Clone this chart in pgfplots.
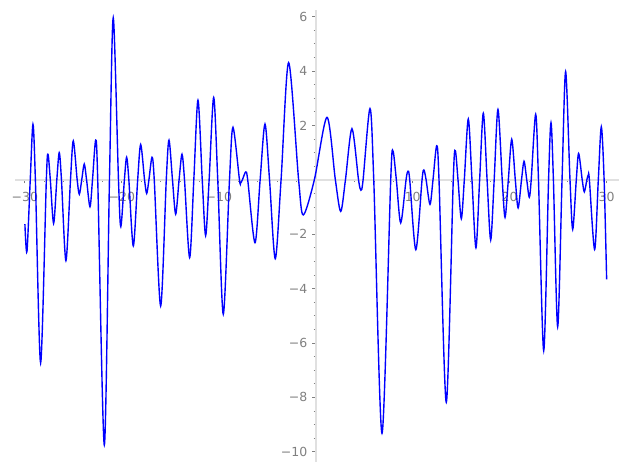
\documentclass[border=0pt]{standalone}
\usepackage{fontspec}
\setmainfont{DejaVu Sans}
\usepackage{pgfplots}
\pgfplotsset{compat=1.18}
\definecolor{axgray}{RGB}{224,224,224}
\definecolor{tkgray}{RGB}{128,128,128}
\begin{document}
\begin{tikzpicture}
\begin{axis}[
  x=6.98pt, y=19.58pt,
  xmin=-31, xmax=31.3, ymin=-10.37, ymax=6.25,
  axis lines=middle,
  axis line style={-, draw=axgray, line width=1.1pt},
  xtick={-30,-20,-10,10,20,30},
  xticklabels={−30,−20,−10,10,20,30},
  minor xtick={-28,-26,-24,-22,-18,-16,-14,-12,-8,-6,-4,-2,2,4,6,8,12,14,16,18,22,24,26,28},
  ytick={-10,-8,-6,-4,-2,2,4,6},
  yticklabels={−10,−8,−6,−4,−2,2,4,6},
  minor ytick={-10,-9.5,...,6},
  tick align=outside,
  major tick length=2.6pt, minor tick length=1.5pt,
  every tick/.style={draw=tkgray, line width=0.6pt},
  tick label style={text=tkgray, font=\fontsize{9}{10}\selectfont},
  xticklabel style={yshift=-2.5pt},
  clip=false,
]
\addplot[blue, line width=1pt, smooth] coordinates {
(-30,-1.63) (-29.79,-2.64) (-29.45,0) (-29.17,2.04) (-28.92,0) (-28.38,-6.73)
(-27.79,0) (-27.62,0.94) (-27.38,0) (-27.04,-1.60) (-26.71,0) (-26.46,1.00)
(-26.23,0) (-25.77,-2.97) (-25.30,0) (-25.01,1.43) (-24.61,0) (-24.39,-0.53)
(-24.14,0) (-23.88,0.58) (-23.64,0) (-23.29,-0.99) (-23.03,0) (-22.70,1.46)
(-22.49,0) (-21.81,-9.75) (-21.28,0) (-20.89,5.96) (-20.35,0) (-20.11,-1.72)
(-19.74,0) (-19.51,0.83) (-19.28,0) (-18.82,-2.43) (-18.37,0) (-18.06,1.30)
(-17.66,0) (-17.44,-0.50) (-17.21,0) (-16.89,0.83) (-16.66,0) (-16.00,-4.64)
(-15.42,0) (-15.14,1.46) (-14.78,0) (-14.45,-1.26) (-14.10,0) (-13.80,0.94)
(-13.54,0) (-13.01,-2.86) (-12.58,0) (-12.15,2.93) (-11.71,0) (-11.36,-2.05)
(-11.00,0) (-10.53,3.03) (-10.11,0) (-9.54,-4.94) (-8.90,0) (-8.54,1.93)
(-7.87,0) (-7.75,-0.11) (-7.57,0) (-7.23,0.29) (-7.02,0) (-6.27,-2.31)
(-5.74,0) (-5.24,2.05) (-4.77,0) (-4.18,-2.90) (-3.58,0) (-2.80,4.31)
(-1.77,0) (-1.29,-1.29) (-0.15,0) (1.16,2.30) (2.02,0) (2.57,-1.16)
(3.06,0) (3.73,1.88) (4.41,0) (4.66,-0.38) (4.88,0) (5.59,2.62)
(5.98,0) (6.83,-9.32) (7.73,0) (7.96,1.06) (8.31,0) (8.76,-1.58)
(9.31,0) (9.51,0.32) (9.69,0) (10.32,-2.57) (10.96,0) (11.15,0.36)
(11.38,0) (11.78,-0.90) (12.09,0) (12.47,1.25) (12.71,0) (13.46,-8.18)
(14.18,0) (14.39,1.07) (14.67,0) (15.01,-1.43) (15.32,0) (15.73,2.24)
(16.11,0) (16.52,-2.50) (16.90,0) (17.28,2.45) (17.67,0) (18.04,-2.21)
(18.40,0) (18.79,2.59) (19.23,0) (19.52,-1.38) (19.86,0) (20.21,1.49)
(20.58,0) (20.87,-1.03) (21.22,0) (21.48,0.68) (21.76,0) (22.02,-0.64)
(22.22,0) (22.68,2.41) (22.97,0) (23.51,-6.28) (24.01,0) (24.26,2.10)
(24.51,0) (24.95,-5.40) (25.40,0) (25.77,3.98) (26.22,0) (26.50,-1.82)
(26.87,0) (27.11,0.97) (27.48,0) (27.70,-0.44) (27.96,0) (28.11,0.18)
(28.22,0) (28.76,-2.56) (29.14,0) (29.45,1.95) (29.74,0) (30,-3.66)
};
\coordinate (bl) at (axis cs:-32.57,-10.64);
\coordinate (tr) at (axis cs:32.1,6.613);
\end{axis}
\pgfresetboundingbox
\path[use as bounding box] (bl) rectangle (tr);
\end{tikzpicture}
\end{document}
